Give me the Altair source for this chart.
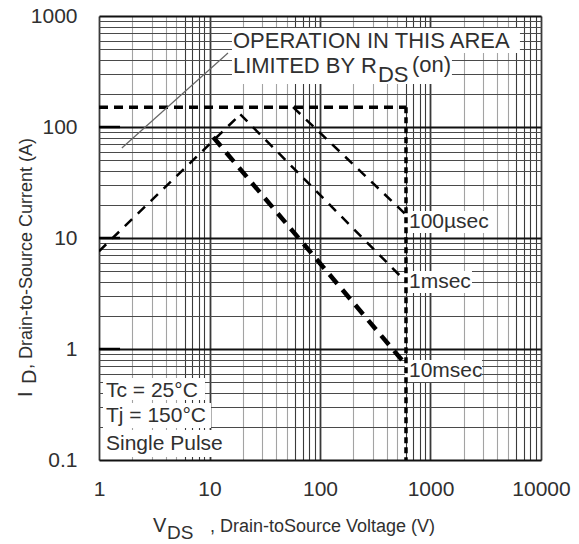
import altair as alt
import pandas as pd

# ---------------- data ----------------
# Safe-operating-area boundary lines: V_DS (V) and I_D (A)
rds_v = [1, 19]
rds_i = [7.6, 130]
us100_v = [57, 590]
us100_i = [151, 16.5]
ms1_v = [19, 590]
ms1_i = [130, 4.1]
ms10_v = [10.8, 560]
ms10_i = [81, 0.78]
limit_h_v = [1, 600]
limit_h_i = [151, 151]
limit_v_v = [600, 600]
limit_v_i = [151, 0.1]

# curve labels
curve_labels = ["100µsec", "1msec", "10msec"]
curve_label_v = [600, 600, 600]
curve_label_i = [12.3, 3.55, 0.56]

# condition notes (bottom left)
cond_labels = ["Tc = 25°C", "Tj = 150°C", "Single Pulse"]
cond_v = [1.157, 1.157, 1.157]
cond_i = [0.37, 0.22, 0.123]

# R_DS(on) note
note_lines = ["OPERATION IN THIS AREA", "LIMITED BY R"]
note_v = [16.3, 16.3]
note_i = [515, 306]
pointer_v = [1.61, 14.7]
pointer_i = [64.7, 464]

# short thick marks at left border
left_mark_i = [1, 10, 100]
left_mark_v = [1, 1.55]

x_ticks = [1, 10, 100, 1000, 10000]
y_ticks = [0.1, 1, 10, 100, 1000]

# ---------------- scales / axes ----------------
FONT = "Liberation Sans"
TXT = "#303030"
W, H = 442, 444

xs = alt.Scale(type="log", domain=[1, 10000], nice=False)
ys = alt.Scale(type="log", domain=[0.1, 1000], nice=False)

x_grid = [m * 10 ** e for e in range(4) for m in range(1, 10)] + [10000]
y_grid = [m * 10.0 ** e for e in range(-1, 3) for m in range(1, 10)] + [1000]

decade = "abs(log(datum.value)/LN10 - round(log(datum.value)/LN10)) < 0.001"
mant = "(datum.value / pow(10, floor(log(datum.value)/LN10 + 0.001)))"

x_axis = alt.Axis(
    values=x_grid, grid=True, ticks=False, domain=False, title=None,
    labelExpr=f"({decade}) ? format(datum.value, '~g') : ''",
    labelOverlap=False, labelFlush=False,
    gridColor={"condition": {"test": f"({decade}) || {mant} >= 5.5", "value": "#3a3a3a"},
               "value": "#a3a3a3"},
    gridWidth={"condition": {"test": decade, "value": 1.8}, "value": 1.1},
    labelFontSize=21, labelFont=FONT, labelColor=TXT, labelPadding=18,
)
y_axis = alt.Axis(
    values=y_grid, grid=True, ticks=False, domain=False, title=None,
    labelExpr=f"({decade}) ? format(datum.value, '~g') : ''",
    labelOverlap=False, labelFlush=False,
    gridColor={"condition": {"test": decade, "value": "#111111"}, "value": "#4a4a4a"},
    gridWidth={"condition": {"test": decade, "value": 1.8}, "value": 1.0},
    labelFontSize=21, labelFont=FONT, labelColor=TXT, labelPadding=22,
)


def X(f):
    return alt.X(f, scale=xs, axis=x_axis)


def Y(f):
    return alt.Y(f, scale=ys, axis=y_axis)


# ---------------- lines ----------------
def line(vs, is_, width, dash):
    df = pd.DataFrame({"v": vs, "i": is_, "k": list(range(len(vs)))})
    return alt.Chart(df).mark_line(
        color="black", strokeWidth=width, strokeDash=dash, clip=True
    ).encode(x=X("v:Q"), y=Y("i:Q"), order="k:Q")


lines = [
    line(rds_v, rds_i, 2.5, [10, 8]),
    line(us100_v, us100_i, 2.5, [10, 8]),
    line(ms1_v, ms1_i, 2.5, [10, 8]),
    line(ms10_v, ms10_i, 4.5, [12, 8]),
    line(limit_h_v, limit_h_i, 3.5, [9, 6]),
    line(limit_v_v, limit_v_i, 3.5, [6, 4]),
]

pointer = line(pointer_v, pointer_i, 1.2, [1, 0]).mark_line(color="#666666", strokeWidth=1.2)

left_marks = alt.Chart(pd.DataFrame({"i": left_mark_i, "v0": [left_mark_v[0]] * 3,
                                      "v1": [left_mark_v[1]] * 3})).mark_rule(
    color="black", strokeWidth=2.5).encode(x=X("v0:Q"), x2="v1:Q", y=Y("i:Q"))


# ---------------- boxed texts ----------------
def box(v, i, x0, x1, y0, y1):
    df = pd.DataFrame({"v": [v], "i": [i]})
    return alt.Chart(df).mark_rect(
        color="white", xOffset=x0, x2Offset=x1, yOffset=y0, y2Offset=y1
    ).encode(x=X("v:Q"), x2="v:Q", y=Y("i:Q"), y2="i:Q")


def text(texts, vs, is_, size, dx=0, dy=0):
    df = pd.DataFrame({"t": texts, "v": vs, "i": is_})
    return alt.Chart(df).mark_text(
        align="left", baseline="alphabetic", font=FONT, fontSize=size,
        color=TXT, dx=dx, dy=dy
    ).encode(x=X("v:Q"), y=Y("i:Q"), text="t:N")


boxes = [
    box(curve_label_v[0], curve_label_i[0], -1, 87, -17, 5),
    box(curve_label_v[1], curve_label_i[1], -1, 66, -17, 5),
    box(curve_label_v[2], curve_label_i[2], -1, 76, -17, 5),
    box(cond_v[0], cond_i[0], -3, 99, -19, 3),
    box(cond_v[1], cond_i[1], -3, 105, -19, 6),
    box(cond_v[2], cond_i[2], -3, 122, -20, 7),
    box(note_v[0], note_i[0], -1, 287, -20, 5),
    box(note_v[1], note_i[1], -1, 219, -20, 11),
]

texts = [
    text(curve_labels, curve_label_v, curve_label_i, 21, dx=3),
    text(cond_labels, cond_v, cond_i, 21),
    text(note_lines, note_v, note_i, 22),
    text(["DS"], [note_v[1]], [note_i[1]], 22, dx=145, dy=9),
    text(["(on)"], [note_v[1]], [note_i[1]], 22, dx=179, dy=-1),
]


# ---------------- axis titles (with subscripts) ----------------
def ptext(t, px, py, size, angle=0):
    return alt.Chart(pd.DataFrame({"t": [t]})).mark_text(
        align="left", baseline="alphabetic", font=FONT, fontSize=size,
        color=TXT, angle=angle
    ).encode(x=alt.value(px), y=alt.value(py), text="t:N")


titles = [
    ptext("V", 54, 516, 20),
    ptext("DS", 68, 523, 19),
    ptext(", Drain-toSource Voltage (V)", 111, 516, 18),
    ptext("I", -67, 381, 20, angle=270),
    ptext("D", -63, 368, 20, angle=270),
    ptext(",  Drain-to-Source Current (A)", -67, 353, 18, angle=270),
]

chart = alt.layer(
    *boxes, *lines, pointer, left_marks, *texts, *titles
).properties(
    width=W, height=H,
    autosize=alt.AutoSizeParams(type="none"),
    padding={"left": 99, "top": 16, "right": 38, "bottom": 84},
).configure_view(
    stroke="black", strokeWidth=3.5
).configure(background="white")

chart.save("out.html", embed_options={"renderer": "svg", "actions": False})
